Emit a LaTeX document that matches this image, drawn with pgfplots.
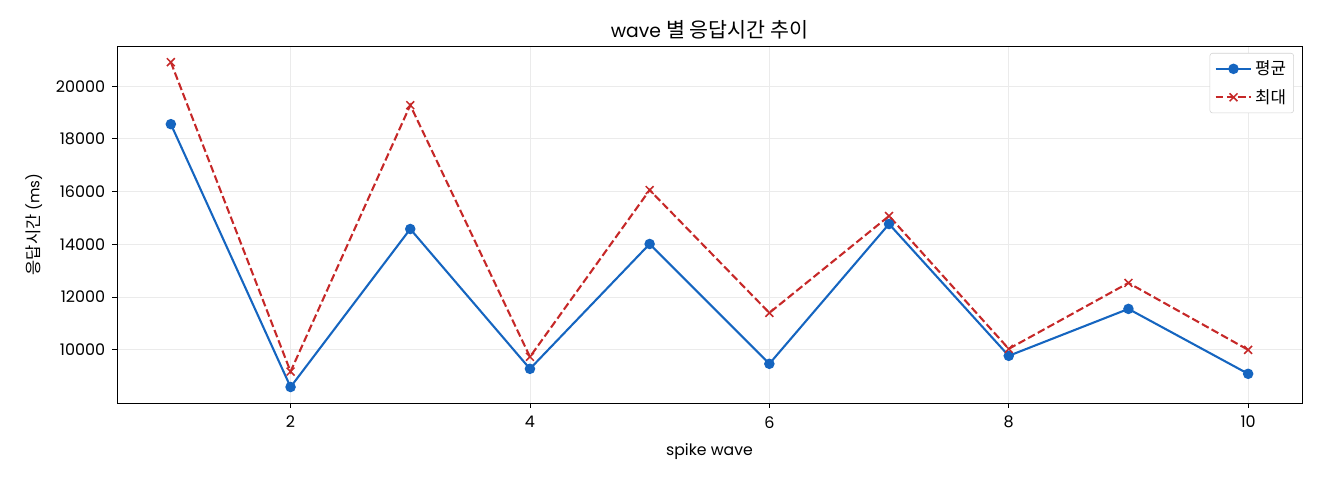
\documentclass[border=0pt]{standalone}
\usepackage{fontspec}
\setmainfont{Poppins}
\newfontfamily\kr[Scale=1.1]{Noto Sans CJK KR}
\usepackage{pgfplots}
\pgfplotsset{compat=1.18}
\definecolor{cblue}{HTML}{1565C0}
\definecolor{cred}{HTML}{C62828}
\begin{document}
\fontsize{10}{12}\selectfont
\begin{tikzpicture}
\useasboundingbox (-84.24pt,-55.44pt) rectangle (866.16pt,290.16pt);
\begin{axis}[
  at={(0,0)}, anchor=south west,
  scale only axis, width=853.2pt, height=257.04pt,
  xmin=0.55, xmax=10.45, ymin=7984, ymax=21524,
  xtick={2,4,6,8,10}, ytick={10000,12000,14000,16000,18000,20000},
  /pgf/number format/assume math mode=true,
  /pgf/number format/set thousands separator={},
  scaled y ticks=false,
  tick label style={font=\fontsize{11.5}{13}\selectfont},
  yticklabel style={xshift=-1.5pt},
  xticklabel style={yshift=-2.5pt},
  tick align=outside, xtick pos=bottom, ytick pos=left,
  major tick length=3.5pt,
  every tick/.style={black, line width=0.6pt},
  axis line style={line width=0.6pt},
  grid=major, grid style={gray!16, line width=0.6pt},
  every axis title shift=0pt,
  title={wave {\kr 별 응답시간 추이}},
  title style={at={(axis description cs:0.5,1.0447)}, anchor=center, font=\fontsize{13.5}{15}\selectfont},
  xlabel={spike wave},
  xlabel style={at={(axis description cs:0.5,-0.1362)}, anchor=center, font=\fontsize{11.3}{13}\selectfont},
  ylabel={{\kr 응답시간} (ms)},
  ylabel style={at={(axis description cs:-0.0703,0.5)}, anchor=center, font=\fontsize{10.8}{12}\selectfont},
  legend style={at={(rel axis cs:1,1)}, anchor=north east, xshift=-5.8pt, yshift=-5pt,
    draw=gray!35, rounded corners=2pt, font=\fontsize{11}{13}\selectfont,
    row sep=5pt, inner sep=3.5pt},
  legend cell align=left,
  legend image code/.code={\draw[mark repeat=2,mark phase=2] plot coordinates {(0cm,0cm) (0.45cm,0cm) (0.9cm,0cm)};},
]
\addplot[cblue, line width=1.5pt, mark=*, mark size=3pt, mark options={solid, fill=cblue}]
coordinates {(1,18560) (2,8590) (3,14583) (4,9280) (5,14015) (6,9470) (7,14773) (8,9773) (9,11553) (10,9091)};
\addlegendentry{\kr 평균}
\addplot[cred, line width=1.5pt, dash pattern=on 5.55pt off 2.4pt, mark=x, mark size=4pt, mark options={solid, line width=1.1pt}]
coordinates {(1,20909) (2,9175) (3,19280) (4,9735) (5,16061) (6,11402) (7,15076) (8,10038) (9,12538) (10,10000)};
\addlegendentry{\kr 최대}
\end{axis}
\end{tikzpicture}
\end{document}
